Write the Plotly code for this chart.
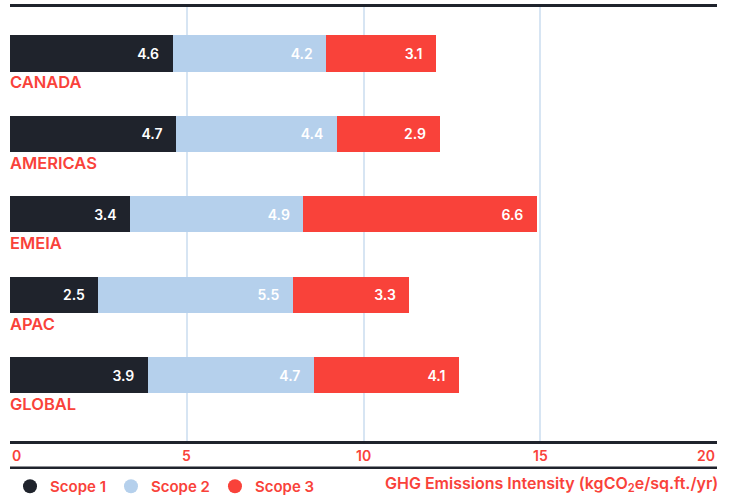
import plotly.graph_objects as go

regions = ["CANADA", "AMERICAS", "EMEIA", "APAC", "GLOBAL"]
scope1 = [4.6, 4.7, 3.4, 2.5, 3.9]
scope2 = [4.35, 4.55, 4.9, 5.5, 4.7]
scope3 = [3.1, 2.9, 6.6, 3.3, 4.1]
scope1_labels = ["4.6", "4.7", "3.4", "2.5", "3.9"]
scope2_labels = ["4.2", "4.4", "4.9", "5.5", "4.7"]
scope3_labels = ["3.1", "2.9", "6.6", "3.3", "4.1"]
series_names = ["Scope 1", "Scope 2", "Scope 3"]
x_ticks = [0, 5, 10, 15, 20]
axis_title = "GHG Emissions Intensity (kgCO<sub>2</sub>e/sq.ft./yr)"

DARK = "#1f232c"
LIGHT = "#b5d0ec"
RED = "#f9423a"
GRID = "#d7e5f3"
FONT = "Inter"
PAD = "\u00a0\u00a0\u00a0"

fig = go.Figure()
for name, vals, labels, color in zip(
    series_names,
    [scope1, scope2, scope3],
    [scope1_labels, scope2_labels, scope3_labels],
    [DARK, LIGHT, RED],
):
    fig.add_trace(go.Bar(
        y=regions, x=vals, orientation="h", name=name,
        marker=dict(color=color, line=dict(width=0)),
        width=0.45,
        text=[l + PAD for l in labels],
        textposition="inside", insidetextanchor="end",
        textfont=dict(color="white", size=14, family=FONT, weight=600),
        showlegend=False, hoverinfo="skip",
    ))
    fig.add_trace(go.Scatter(
        x=[None], y=[None], mode="markers", name=name,
        marker=dict(color=color, size=14, symbol="circle"),
        showlegend=True, hoverinfo="skip",
    ))

annotations = []
for r in regions:
    annotations.append(dict(
        x=0, y=r, xref="x", yref="y", yshift=-29, xshift=-2, text=r, showarrow=False,
        xanchor="left", yanchor="middle",
        font=dict(color=RED, size=16.5, family=FONT, weight=600),
    ))
for t in x_ticks:
    anchor = "left" if t == x_ticks[0] else ("right" if t == x_ticks[-1] else "center")
    annotations.append(dict(
        x=t, y=-0.0323, xref="x", yref="paper", text=str(t), showarrow=False,
        xanchor=anchor, yanchor="middle",
        font=dict(color=RED, size=14, family=FONT, weight=600),
    ))
annotations.append(dict(
    x=1, y=-0.1, xref="paper", yref="paper", text=axis_title, showarrow=False,
    xanchor="right", yanchor="middle", xshift=3,
    font=dict(color=RED, size=16, family=FONT, weight=600),
))

fig.update_layout(
    barmode="stack",
    width=730, height=496,
    margin=dict(l=10, r=13, t=7, b=55, autoexpand=False),
    paper_bgcolor="white", plot_bgcolor="white",
    font=dict(family=FONT),
    hovermode=False,
    xaxis=dict(
        range=[0, 20], tickvals=x_ticks[1:], showticklabels=False,
        showgrid=True, gridcolor=GRID, gridwidth=2, zeroline=False,
        showline=True, linecolor=DARK, linewidth=2.5, mirror=True, ticks="",
    ),
    yaxis=dict(
        categoryorder="array", categoryarray=regions,
        range=[4.82, -0.578], showticklabels=False, showgrid=False,
        zeroline=False, showline=False, ticks="",
    ),
    legend=dict(
        orientation="h", x=0.0, xanchor="left", y=-0.105, yanchor="middle",
        traceorder="normal",
        font=dict(color=RED, size=15, family=FONT, weight=600),
        itemwidth=30, tracegroupgap=0, bgcolor="rgba(0,0,0,0)",
    ),
    shapes=[dict(
        type="line", xref="paper", yref="paper", x0=0, x1=1,
        y0=-0.0615, y1=-0.0615, line=dict(color=DARK, width=2.5),
    )],
    annotations=annotations,
)

fig.write_html(
    "out.html",
    config={"displayModeBar": False},
    post_script="document.body.style.margin='0';document.body.style.padding='0';",
)
